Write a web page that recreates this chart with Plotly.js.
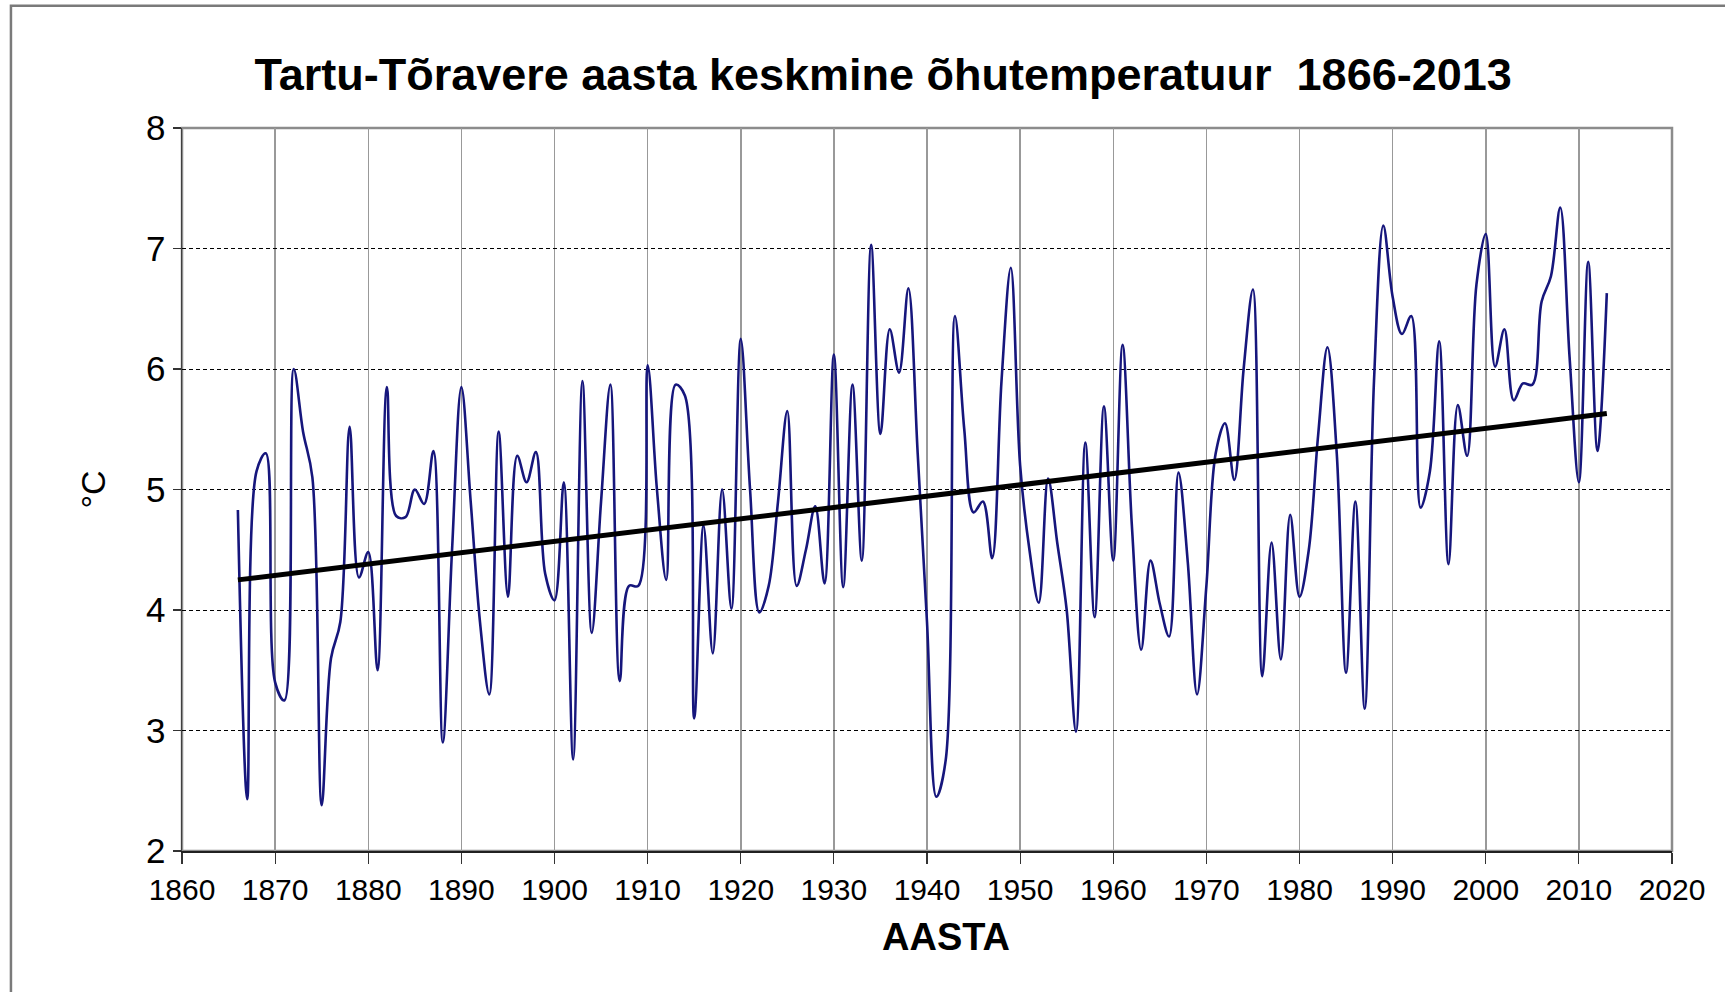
<!DOCTYPE html>
<html>
<head>
<meta charset="utf-8">
<script src="https://cdn.plot.ly/plotly-3.0.1.min.js"></script>
<style>html,body{margin:0;padding:0;background:#fff;}#chart{width:1725px;height:992px;}</style>
</head>
<body>
<div id="chart"></div>
<script>
const years = [1866,1867,1868,1869,1870,1871,1872,1873,1874,1875,1876,1877,1878,1879,1880,1881,1882,1883,1884,1885,1886,1887,1888,1889,1890,1891,1892,1893,1894,1895,1896,1897,1898,1899,1900,1901,1902,1903,1904,1905,1906,1907,1908,1909,1910,1911,1912,1913,1914,1915,1916,1917,1918,1919,1920,1921,1922,1923,1924,1925,1926,1927,1928,1929,1930,1931,1932,1933,1934,1935,1936,1937,1938,1939,1940,1941,1942,1943,1944,1945,1946,1947,1948,1949,1950,1951,1952,1953,1954,1955,1956,1957,1958,1959,1960,1961,1962,1963,1964,1965,1966,1967,1968,1969,1970,1971,1972,1973,1974,1975,1976,1977,1978,1979,1980,1981,1982,1983,1984,1985,1986,1987,1988,1989,1990,1991,1992,1993,1994,1995,1996,1997,1998,1999,2000,2001,2002,2003,2004,2005,2006,2007,2008,2009,2010,2011,2012,2013];
const temperature = [4.83,2.43,5.15,5.30,3.40,3.25,6.00,5.48,5.10,2.38,3.60,3.90,5.52,4.27,4.48,3.50,5.85,4.78,4.77,5.00,4.88,5.32,2.90,4.50,5.85,4.90,3.90,3.30,5.48,4.11,5.28,5.06,5.31,4.30,4.08,5.06,2.76,5.90,3.81,4.90,5.87,3.41,4.20,4.20,6.03,5.00,4.25,5.87,5.78,3.10,4.70,3.64,5.00,4.01,6.25,5.00,3.98,4.20,4.90,5.65,4.20,4.50,4.86,4.22,6.12,4.19,5.87,4.41,7.03,5.46,6.33,5.97,6.67,5.30,3.90,2.45,2.75,6.44,5.50,4.81,4.90,4.43,5.90,6.84,5.20,4.50,4.06,5.09,4.55,4.00,2.99,5.39,3.94,5.69,4.41,6.20,4.70,3.67,4.41,4.05,3.78,5.14,4.40,3.30,4.20,5.30,5.55,5.08,6.00,6.66,3.45,4.56,3.59,4.79,4.11,4.50,5.45,6.18,5.30,3.48,4.90,3.18,5.90,7.19,6.60,6.29,6.44,4.85,5.15,6.23,4.38,5.70,5.28,6.70,7.12,6.02,6.33,5.74,5.88,5.87,6.56,6.77,7.34,6.10,5.06,6.89,5.32,6.63];
const trendYears = [1866, 2013];
const trendValues = [4.25, 5.63];
const xTicks = [1860,1870,1880,1890,1900,1910,1920,1930,1940,1950,1960,1970,1980,1990,2000,2010,2020];
const yTicks = [2,3,4,5,6,7,8];
const titleText = 'Tartu-Tõravere aasta keskmine õhutemperatuur  1866-2013';
const xTitle = 'AASTA';
const yTitle = '°C';

const font = '"Liberation Sans", Arial, sans-serif';

const traces = [
  {x: years, y: temperature, type: 'scatter', mode: 'lines',
   line: {color: '#16167c', width: 2.6, shape: 'spline', smoothing: 1}, hoverinfo: 'x+y'},
  {x: trendYears, y: trendValues, type: 'scatter', mode: 'lines',
   line: {color: '#000000', width: 5}, hoverinfo: 'skip'}
];

const layout = {
  width: 1725, height: 992,
  paper_bgcolor: '#ffffff', plot_bgcolor: '#ffffff',
  showlegend: false,
  margin: {l: 182, r: 53, t: 128, b: 140.5, pad: 0},
  title: {text: titleText, font: {family: font, size: 45, color: '#000', weight: 'bold'},
          x: 0.512, xanchor: 'center', xref: 'container', y: 0.925, yanchor: 'middle'},
  xaxis: {range: [1860, 2020], tickvals: xTicks, ticktext: xTicks.map(String),
          showgrid: true, gridcolor: '#999999', gridwidth: 1.5,
          zeroline: false, showline: true, linecolor: '#202020', linewidth: 2,
          ticks: 'outside', ticklen: 11, tickwidth: 1.2, tickcolor: '#333',
          tickfont: {family: font, size: 30, color: '#000'},
          title: {text: ''}},
  yaxis: {range: [2, 8], tickvals: yTicks, ticktext: yTicks.map(String),
          showgrid: true, gridcolor: '#000000', gridwidth: 1, griddash: '4px,3px',
          zeroline: false, showline: true, linecolor: '#404040', linewidth: 1.5,
          ticks: 'outside', ticklen: 8, tickwidth: 1.2, tickcolor: '#333',
          tickfont: {family: font, size: 35, color: '#000'},
          title: {text: yTitle, font: {family: font, size: 34, color: '#000'}, standoff: 30}},
  annotations: [
    {text: xTitle, xref: 'paper', yref: 'paper', x: 0.513, y: -0.1195,
     xanchor: 'center', yanchor: 'middle', showarrow: false,
     font: {family: font, size: 38, color: '#000', weight: 'bold'}}
  ],
  shapes: [
    {type: 'rect', xref: 'paper', yref: 'paper', x0: 0, x1: 1, y0: 0, y1: 1,
     line: {color: '#8c8c8c', width: 2.5}, layer: 'below'},
    {type: 'rect', xref: 'paper', yref: 'paper', x0: -0.1148, x1: 1.06, y0: -0.22, y1: 1.169,
     line: {color: '#7a7a7a', width: 2.5}, layer: 'below'}
  ]
};

Plotly.newPlot('chart', traces, layout, {displayModeBar: false, staticPlot: true});
</script>
</body>
</html>
